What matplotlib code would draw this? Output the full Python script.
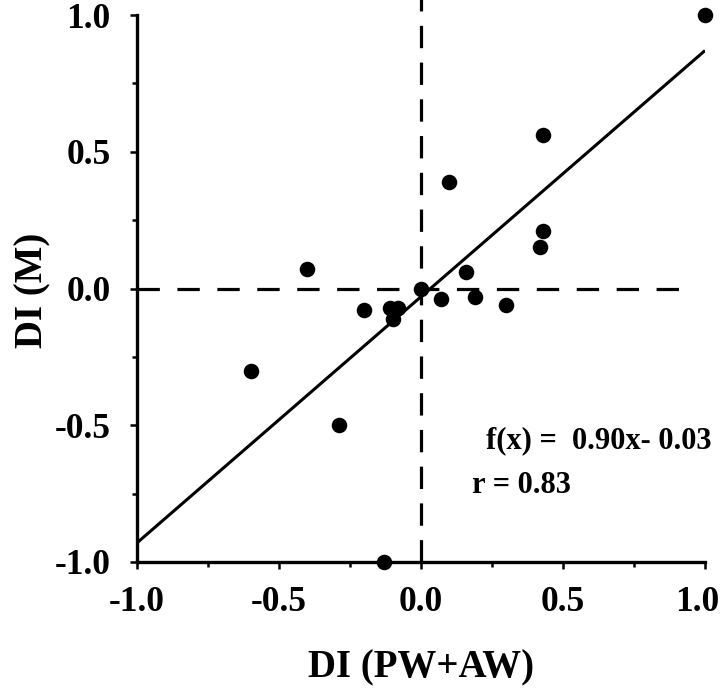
import matplotlib
matplotlib.use("Agg")
import matplotlib.pyplot as plt
import matplotlib.transforms as mtransforms
import numpy as np

# ---- data ----
di_pw_aw = [1.00, 0.43, 0.10, 0.43, 0.42, 0.16, -0.40, 0.00, 0.07, 0.19,
            0.30, -0.20, -0.11, -0.08, -0.10, -0.60, -0.29, -0.13]
di_m = [1.00, 0.56, 0.39, 0.21, 0.15, 0.06, 0.07, 0.00, -0.04, -0.03,
        -0.06, -0.08, -0.07, -0.07, -0.11, -0.30, -0.50, -1.00]
slope = 0.90
intercept = -0.03
r_value = 0.83
fit_label = "f(x) =  0.90x- 0.03"
r_label = "r = 0.83"
x_ticks = [-1.0, -0.5, 0.0, 0.5, 1.0]
y_ticks = [-1.0, -0.5, 0.0, 0.5, 1.0]
x_label = "DI (PW+AW)"
y_label = "DI (M)"

plt.rcParams['font.family'] = ['Liberation Serif', 'DejaVu Serif']
plt.rcParams['font.weight'] = 'bold'

fig = plt.figure(figsize=(7.2, 7.0), dpi=100)
ax = fig.add_axes([137/720, 1-562/700, 568/720, 547/700])

ax.set_xlim(-1, 1)
ax.set_ylim(-1, 1)

# regression line
xl = np.array([-1.0, 1.0])
ax.plot(xl, slope*xl + intercept, color='black', lw=2.2, solid_capstyle='butt', zorder=3)

# dashed reference lines
ax.plot([-1, 0.96], [0, 0], color='black', lw=2.3, dashes=(7, 5.5), zorder=2, clip_on=False)
ax.plot([0, 0], [-1, 1.06], color='black', lw=2.3, dashes=(7, 4.5), zorder=2, clip_on=False)

# points
ax.scatter(di_pw_aw, di_m, s=125, color='black', zorder=4, clip_on=False, linewidths=0)

# spines
for s in ['top', 'right']:
    ax.spines[s].set_visible(False)
for s in ['left', 'bottom']:
    ax.spines[s].set_linewidth(2.4)

ax.set_xticks(x_ticks)
ax.set_yticks(y_ticks)
ax.set_xticklabels([f"{v:.1f}" for v in x_ticks])
ax.set_yticklabels([f"{v:.1f}" for v in y_ticks])
ax.set_xticks([-0.75, -0.25, 0.25, 0.75], minor=True)
ax.set_yticks([-0.75, -0.25, 0.25, 0.75], minor=True)
ax.tick_params(which='major', direction='out', length=5, width=1.8, labelsize=25.5)
ax.tick_params(axis='x', which='major', pad=12)
ax.tick_params(axis='y', which='major', pad=14)
ax.tick_params(which='minor', direction='out', length=3.5, width=1.8)
for lab in ax.get_xticklabels() + ax.get_yticklabels():
    lab.set_fontweight('bold')

# shift the last x tick label slightly left (as in the reference)
last = ax.get_xticklabels()[-1]
last.set_transform(last.get_transform() + mtransforms.ScaledTranslation(-8/100, 0, fig.dpi_scale_trans))

ax.set_xlabel(x_label, fontsize=28, fontweight='bold', labelpad=22)
ax.set_ylabel(y_label, fontsize=28, fontweight='bold')
ax.yaxis.set_label_coords(-0.150, 0.497)

ax.text(0.229, -0.584, fit_label, fontsize=22, fontweight='bold', va='baseline', ha='left')
ax.text(0.18, -0.748, r_label, fontsize=22, fontweight='bold', va='baseline', ha='left')

fig.savefig("out.png", dpi=100)
